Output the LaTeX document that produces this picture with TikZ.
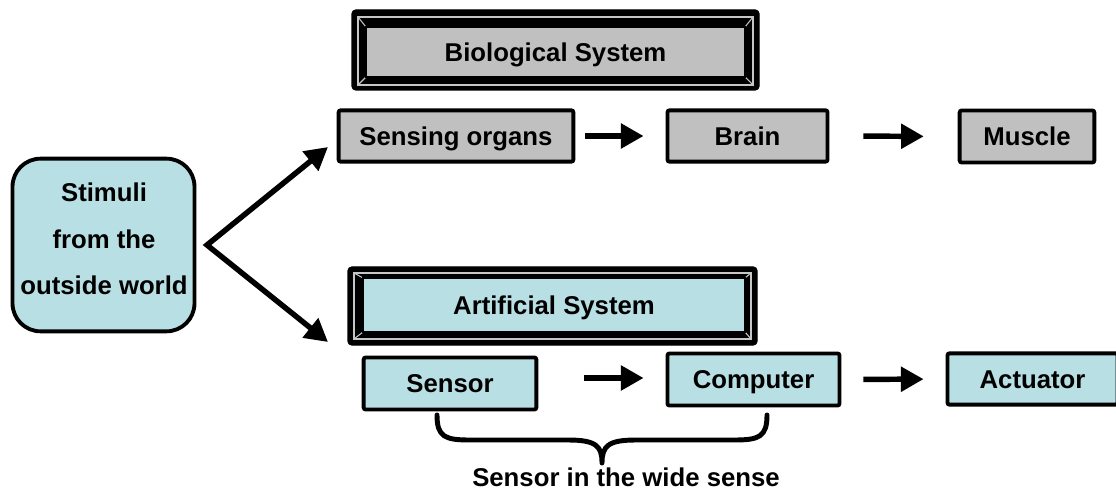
\documentclass[tikz,border=0pt]{standalone}
\usepackage{fontspec}
\setmainfont{Liberation Sans}
\usetikzlibrary{arrows.meta}
\definecolor{bluefill}{HTML}{B8DFE3}
\definecolor{grayfill}{HTML}{C0C0C0}
\tikzset{
  lbl/.style={font=\bfseries\fontsize{19.3}{34.8}\selectfont, inner sep=0pt, align=center},
  box/.style={draw=black, line width=2.9pt, rounded corners=1.5pt, inner sep=0pt, text height=13.9pt, text depth=0pt,
              font=\bfseries\fontsize{19.3}{23}\selectfont},
  gbox/.style={box, fill=grayfill},
  bbox/.style={box, fill=bluefill},
  framein/.style={draw=black, line width=1.1pt, inner sep=0pt, text height=13.9pt, text depth=0pt,
              font=\bfseries\fontsize{19.3}{23}\selectfont},
  frameout/.style={fill=black, draw=black, line width=1pt, rounded corners=3pt},
  bevel/.style={draw=gray!45, line width=0.8pt},
  arr/.style={line width=4.1pt, -{Triangle[length=17pt,width=18pt]}},
  darr/.style={line width=4.1pt, line join=miter, {Triangle[length=17pt,width=18pt]}-{Triangle[length=17pt,width=18pt]}},
  brace/.style={line width=3.7pt, line cap=round, line join=round},
}
\begin{document}
\begin{tikzpicture}[x=0.75pt, y=-0.75pt]
\useasboundingbox (0,0) rectangle (1116,491);

% Biological system frame
\draw[frameout] (352,10) rectangle (759,90);
\draw[bevel] (358,17) rectangle (753,85);
\draw[bevel] (358,17) -- (366,27) (753,17) -- (745,27) (358,85) -- (366,77) (753,85) -- (745,77);
\node[framein, fill=grayfill, minimum width=284.25pt, minimum height=37.5pt] (bio) at (555.5,52) {Biological System};

% Artificial system frame
\draw[frameout] (348,267) rectangle (757,345);
\draw[bevel] (354,273) rectangle (751,339);
\draw[bevel] (354,273) -- (363,278) (751,273) -- (745,278) (354,339) -- (363,332) (751,339) -- (745,332);
\node[framein, fill=bluefill, minimum width=286.5pt, minimum height=40.5pt] (art) at (554,305) {Artificial System};

% Biological chain
\node[gbox, minimum width=176pt, minimum height=38.5pt] (organs) at (456,136) {Sensing organs};
\node[gbox, minimum width=120pt, minimum height=38.5pt] (brain) at (747.5,136) {Brain};
\node[gbox, minimum width=101pt, minimum height=39pt] (muscle) at (1027,136.5) {Muscle};

% Artificial chain
\node[bbox, minimum width=129.5pt, minimum height=39pt] (sensor) at (450,383.5) {Sensor};
\node[bbox, minimum width=129pt, minimum height=39pt] (computer) at (753.5,379.5) {Computer};
\node[bbox, minimum width=127.5pt, minimum height=38.5pt] (actuator) at (1032.5,379) {Actuator};

% Stimuli
\node[draw=black, line width=2.9pt, fill=bluefill, rounded corners=21pt,
      minimum width=136.5pt, minimum height=129.5pt, inner sep=0pt] (stim) at (103.5,245) {};
\node[lbl] (stimtext) at (104,239) {Stimuli\\from the\\outside world};

% Arrows
\draw[arr, shorten <=7pt, shorten >=16.5pt] (organs.east) -- (brain.west);
\draw[arr, shorten <=25.5pt, shorten >=25.5pt] (brain.east) -- (muscle.west);
\draw[arr, shorten <=34.5pt, shorten >=16.5pt] (sensor.east |- 0,378) -- (computer.west |- 0,378);
\draw[arr, shorten <=16.5pt, shorten >=16.5pt] (computer.east) -- (actuator.west);

\coordinate (apex) at (207,245);
\coordinate (tipU) at (328,147);
\coordinate (tipL) at (328,342);
\draw[darr] (tipU) -- (apex) -- (tipL);

% Brace
\draw[brace] (437,415) .. controls (437,437) and (445,440) .. (470,440)
  -- (568,440) .. controls (596,440) and (602,446) .. (602,463)
  .. controls (602,446) and (608,440) .. (636,440)
  -- (734,440) .. controls (759,440) and (767,437) .. (767,415);
\node[lbl, text height=13.9pt, text depth=0pt] (wide) at (626,477) {Sensor in the wide sense};
\end{tikzpicture}
\end{document}
